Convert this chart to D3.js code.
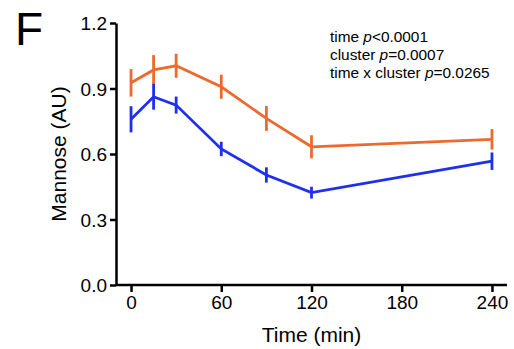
<!DOCTYPE html>
<html>
<head>
<meta charset="utf-8">
<script src="https://cdn.jsdelivr.net/npm/d3@7.8.5/dist/d3.min.js"></script>
<style>
  body { margin: 0; background: #fff; }
  svg { display: block; font-family: "Liberation Sans", Arial, Helvetica, sans-serif; }
  .axis path, .axis line { stroke: #000; stroke-width: 2.5px; }
  .axis text { font-size: 19px; fill: #000; }
</style>
</head>
<body>
<script>
// время забора (мин)
const times = [0, 15, 30, 60, 90, 120, 240];
// кластер 1 (оранжевый)
const orangeMean = [0.926, 0.985, 1.004, 0.908, 0.763, 0.633, 0.667];
const orangeErr  = [0.063, 0.068, 0.055, 0.055, 0.057, 0.053, 0.047];
// кластер 2 (синий)
const blueMean = [0.759, 0.862, 0.824, 0.623, 0.504, 0.423, 0.567];
const blueErr  = [0.060, 0.059, 0.039, 0.033, 0.035, 0.027, 0.040];

const xTicks = [0, 60, 120, 180, 240];
const yTicks = [0.0, 0.3, 0.6, 0.9, 1.2];
const statLines = [
  ['time ', 'p', '<0.0001'],
  ['cluster ', 'p', '=0.0007'],
  ['time x cluster ', 'p', '=0.0265']
];

const W = 514, H = 349;
const svg = d3.select('body').append('svg').attr('width', W).attr('height', H);

const x = d3.scaleLinear().domain([-10, 250]).range([116, 507]);
const y = d3.scaleLinear().domain([0, 1.2]).range([285, 23]);

// оси
svg.append('g').attr('class', 'axis')
  .attr('transform', 'translate(0,285)')
  .call(d3.axisBottom(x).tickValues(xTicks).tickSize(7).tickSizeOuter(0).tickPadding(4))
  .call(g => g.select('.domain').attr('d', `M${x.range()[0]},0H${x.range()[1]}`));

svg.append('g').attr('class', 'axis')
  .attr('transform', 'translate(116,0)')
  .call(d3.axisLeft(y).tickValues(yTicks).tickFormat(d3.format('.1f')).tickSize(6).tickSizeOuter(0).tickPadding(3))
  .call(g => g.selectAll('.tick text').attr('dy', '0.36em'));

// подписи осей
svg.append('text')
  .attr('x', (x(0) + x(240)) / 2).attr('y', 342)
  .attr('text-anchor', 'middle').attr('font-size', 21)
  .text('Time (min)');

svg.append('text')
  .attr('transform', `translate(66,${y(0.6)}) rotate(-90)`)
  .attr('text-anchor', 'middle').attr('font-size', 21)
  .text('Mannose (AU)');

// буква панели
svg.append('text')
  .attr('x', 15).attr('y', 45)
  .attr('font-size', 46)
  .text('F');

// серии
const line = d3.line().x(d => x(d.t)).y(d => y(d.v));

function drawSeries(mean, err, color) {
  const pts = times.map((t, i) => ({ t: t, v: mean[i], e: err[i] }));
  const g = svg.append('g');
  g.append('path').datum(pts)
    .attr('d', line)
    .attr('fill', 'none').attr('stroke', color).attr('stroke-width', 2.8);
  g.selectAll('line.err').data(pts).enter().append('line')
    .attr('class', 'err')
    .attr('x1', d => x(d.t)).attr('x2', d => x(d.t))
    .attr('y1', d => y(d.v - d.e)).attr('y2', d => y(d.v + d.e))
    .attr('stroke', color).attr('stroke-width', 2.8);
}

drawSeries(orangeMean, orangeErr, '#EB6A2E');
drawSeries(blueMean, blueErr, '#1F2FEE');

// статистика
const st = svg.append('text').attr('font-size', 15.4);
statLines.forEach((l, i) => {
  const t = st.append('tspan').attr('x', 330).attr('y', 42 + i * 18);
  t.append('tspan').text(l[0]);
  t.append('tspan').attr('font-style', 'italic').text(l[1]);
  t.append('tspan').text(l[2]);
});
</script>
</body>
</html>
